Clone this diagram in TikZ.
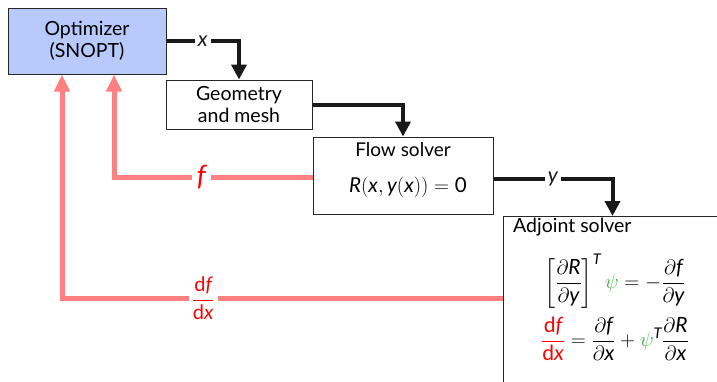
\documentclass[tikz,border=0pt]{standalone}
\usepackage{amsmath}
\usepackage{fontspec}
\setmainfont{Lato}
\usetikzlibrary{arrows.meta,calc}
\definecolor{optblue}{RGB}{184,202,252}
\definecolor{fbred}{RGB}{255,128,128}
\definecolor{psigreen}{RGB}{60,175,60}
\newcommand\mv[1]{\textit{#1}}
\tikzset{
  blockbox/.style={draw=black!85, line width=1pt, rectangle, align=center, inner sep=0pt,
     font=\fontsize{19.5}{22}\selectfont},
  fwd/.style={line width=4pt, black!90, -{Triangle[width=15pt,length=15pt]}},
  back/.style={line width=5pt, fbred, -{Triangle[width=15pt,length=17pt]}},
  lbl/.style={fill=white, inner sep=3pt},
}
\begin{document}
\begin{tikzpicture}[x=1pt,y=-1pt]
\clip (0,0) rectangle (717,381);
\fill[white] (0,0) rectangle (717,381);

\node[blockbox, fill=optblue, minimum width=158pt, minimum height=66pt] (opt) at (87,41)
  {Optimizer\\(SNOPT)};
\node[blockbox, fill=white, minimum width=146pt, minimum height=49pt] (geo) at (239,104.5)
  {Geometry\\and mesh};
\node[blockbox, fill=white, minimum width=180pt, minimum height=77pt] (flow) at (403,175.5) {};
\node[font=\fontsize{19}{22}\selectfont] (flowt) at (403,150) {Flow solver};
\node[font=\fontsize{20.5}{24}\selectfont] (floweq) at (408,187)
  {$\mv{R}(\mv{x},\mv{y}(\mv{x}))=\textup{0}$};

\node[blockbox, fill=white, minimum width=240pt, minimum height=180pt, anchor=north west] (adj) at (503,216) {};
\node[font=\fontsize{19.5}{22}\selectfont, anchor=north west, inner sep=0pt] (adjt) at (513,218) {Adjoint solver};
\node[font=\fontsize{21}{24}\selectfont] (adjeq1) at (615,281)
  {$\displaystyle \left[\frac{\partial \mv{R}}{\partial \mv{y}}\right]^{\mv{T}} {\color{psigreen}\psi} = -\frac{\partial \mv{f}}{\partial \mv{y}}$};
\node[font=\fontsize{21}{24}\selectfont] (adjeq2) at (615,339)
  {$\displaystyle {\color{red}\frac{\textup{d}\mv{f}}{\textup{d}\mv{x}}} = \frac{\partial \mv{f}}{\partial \mv{x}} + {\color{psigreen}\psi}^{\mv{T}}\frac{\partial \mv{R}}{\partial \mv{x}}$};

% forward connectors
\draw[fwd] (opt.east) -| node[lbl, pos=0.25, font=\fontsize{21}{24}\selectfont\itshape] {x} (geo.north);
\draw[fwd] (geo.east) -| (flow.north);
\coordinate (ytip) at ([xshift=-11pt]adj.north);
\draw[fwd] ([yshift=-3pt]flow.east) -| node[lbl, pos=0.25, font=\fontsize{21}{24}\selectfont\itshape] {y} (ytip);

% feedback connectors
\draw[back] ([yshift=-1.5pt]flow.west) -| node[lbl, pos=0.28, text=red, inner sep=5pt, font=\fontsize{28}{30}\selectfont\itshape] {f} ([xshift=27pt]opt.south);
\coordinate (adjw) at ([yshift=8pt]adj.west);
\draw[back] (adjw) -| node[lbl, pos=0.34, text=red, font=\fontsize{20}{22}\selectfont] {$\displaystyle\frac{\textup{d}\mv{f}}{\textup{d}\mv{x}}$} ([xshift=-25pt]opt.south);
\end{tikzpicture}
\end{document}
